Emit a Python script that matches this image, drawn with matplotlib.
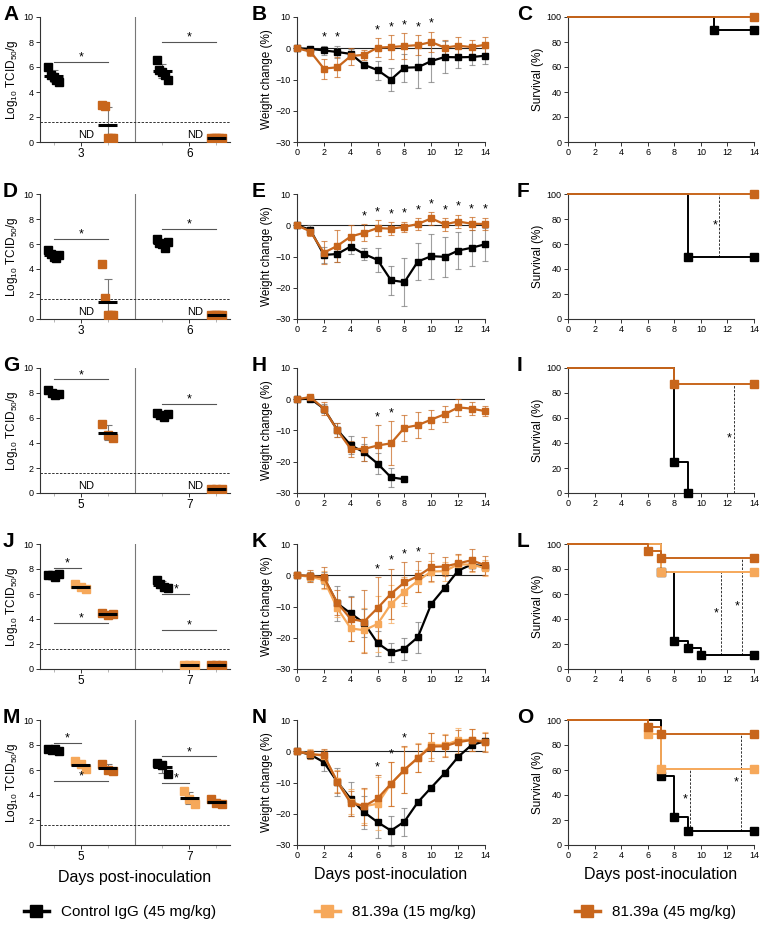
import numpy as np
import matplotlib.pyplot as plt
from matplotlib.lines import Line2D

plt.rcParams['font.family'] = ['Liberation Sans', 'DejaVu Sans']

BLACK = '#000000'
LIGHT = '#F6A85A'
DARK = '#C8661C'

# ---- virus titres (log10 TCID50/g), two days per panel ----
A_days = ['3', '6']
A_ctrl = [[6.0, 5.4, 5.2, 5.0, 4.8], [6.6, 5.8, 5.6, 5.4, 5.0]]
A_high = [[3.0, 2.9, 0.3, 0.3, 0.3], [0.3, 0.3, 0.3, 0.3, 0.3]]
A_sig = [(1, 3, 6.4), (5, 7, 8.0)]

D_days = ['3', '6']
D_ctrl = [[5.5, 5.2, 5.0, 4.9, 5.1], [6.4, 6.1, 6.0, 5.7, 6.2]]
D_high = [[4.4, 1.7, 0.3, 0.3, 0.3], [0.3, 0.3, 0.3, 0.3, 0.3]]
D_sig = [(1, 3, 6.4), (5, 7, 7.2)]

G_days = ['5', '7']
G_ctrl = [[8.2, 8.0, 7.8, 7.9], [6.4, 6.2, 6.1, 6.3]]
G_high = [[5.5, 4.6, 4.4], [0.3, 0.3, 0.3]]
G_sig = [(1, 3, 9.1), (5, 7, 7.15)]

J_days = ['5', '7']
J_ctrl = [[7.5, 7.5, 7.4, 7.6], [7.1, 6.8, 6.6, 6.5]]
J_low = [[6.8, 6.6, 6.4], [0.3, 0.3, 0.3]]
J_high = [[4.5, 4.3, 4.4], [0.3, 0.3, 0.3]]
J_sig = [(1, 2, 8.1), (1, 3, 3.7), (5, 6, 6.0), (5, 7, 3.15)]

M_days = ['5', '7']
M_ctrl = [[7.7, 7.6, 7.7, 7.5], [6.6, 6.4, 5.7]]
M_low = [[6.7, 6.5, 6.1], [4.3, 3.7, 3.3]]
M_high = [[6.5, 6.0, 5.9], [3.7, 3.4, 3.3]]
M_sig = [(1, 2, 8.2), (1, 3, 5.15), (5, 7, 7.1), (5, 6, 5.0)]

# ---- weight change (%) ----
days = np.arange(15)
B_ctrl = [0, -0.2, -0.7, -1.2, -1.8, -5.3, -7.0, -10.0, -6.2, -6.1, -4.1, -2.8, -2.9, -2.8, -2.4]
B_ctrl_sd = [0, 0.5, 1.5, 2.0, 1.5, 1.0, 3.0, 3.7, 4.5, 6.5, 6.7, 5.0, 3.5, 2.5, 2.5]
B_high = [0, -1.1, -6.5, -6.1, -2.5, -2.1, 0.2, 0.4, 0.7, 1.0, 2.0, 0.2, 0.8, 0.4, 1.1]
B_high_sd = [0, 1.5, 3.2, 3.2, 2.7, 1.5, 3.0, 3.7, 4.2, 3.2, 3.3, 2.5, 2.7, 2.2, 2.5]
B_star = [2, 3, 6, 7, 8, 9, 10]

E_ctrl = [0, -1.5, -9.5, -9.2, -6.8, -9.2, -11.1, -17.6, -18.2, -11.6, -9.9, -10.1, -8.1, -7.2, -6.1]
E_ctrl_sd = [0, 1.5, 2.5, 2.5, 2.5, 2.0, 3.8, 4.6, 7.7, 5.9, 7.2, 6.3, 6.0, 5.7, 5.2]
E_high = [0, -2.0, -8.8, -6.6, -3.6, -2.4, -0.9, -1.1, -0.5, 0.4, 2.2, 0.3, 1.2, 0.5, 0.4]
E_high_sd = [0, 1.5, 3.7, 5.2, 3.8, 2.7, 2.6, 2.0, 1.7, 1.9, 2.0, 2.0, 2.2, 2.0, 2.0]
E_star = [5, 6, 7, 8, 9, 10, 11, 12, 13, 14]

H_ctrl = [0, 0.2, -3.0, -9.8, -14.7, -17.0, -20.6, -25.0, -25.6]
H_ctrl_sd = [0, 0.5, 1.5, 2.3, 2.8, 2.7, 3.4, 3.0, 0]
H_high = [0, 0.7, -3.0, -9.9, -15.9, -15.9, -14.8, -14.1, -9.1, -8.3, -6.5, -4.8, -2.6, -3.0, -3.8]
H_high_sd = [0, 0.5, 2.0, 2.3, 2.5, 3.8, 6.5, 7.0, 4.2, 4.2, 3.1, 2.5, 2.8, 2.2, 1.5]
H_star = [6, 7]

K_ctrl = [0, -0.3, -0.8, -9.0, -12.2, -15.3, -21.7, -24.7, -23.5, -19.8, -9.2, -4.0, 1.5, 3.4, 2.8]
K_ctrl_sd = [0, 1.5, 2.0, 5.7, 5.5, 4.5, 4.0, 3.0, 3.5, 5.0, 0, 0, 0, 0, 0]
K_low = [0, -0.5, -1.5, -10.5, -17.0, -17.6, -15.6, -9.2, -5.2, -1.8, 1.2, 1.3, 3.5, 3.4, 2.3]
K_low_sd = [0, 1.5, 3.0, 3.0, 4.0, 7.0, 9.0, 6.0, 4.5, 3.5, 3.5, 3.0, 3.0, 2.5, 2.5]
K_high = [0, -0.2, -0.7, -8.8, -14.0, -14.8, -10.5, -5.9, -2.3, -0.3, 2.6, 2.8, 3.8, 4.8, 3.2]
K_high_sd = [0, 2.0, 3.5, 4.0, 7.0, 10.0, 10.0, 8.0, 6.5, 5.0, 4.5, 3.0, 3.0, 3.5, 3.0]
K_star = [6, 7, 8, 9]

N_ctrl = [0, -1.1, -3.5, -9.8, -15.2, -19.5, -22.7, -25.4, -22.5, -16.3, -11.6, -7.0, -1.8, 2.0, 3.2]
N_ctrl_sd = [0, 1.0, 2.7, 4.5, 5.5, 5.3, 5.0, 4.8, 4.5, 0, 0, 0, 0, 0, 0]
N_low = [0, -0.8, -1.5, -9.6, -16.2, -17.6, -16.8, -10.4, -6.0, -2.0, 2.0, 2.0, 3.5, 3.7, 3.1]
N_low_sd = [0, 1.5, 2.0, 3.5, 4.0, 5.5, 8.5, 7.0, 7.5, 4.5, 4.0, 3.5, 4.0, 3.5, 3.0]
N_high = [0, -1.0, -1.2, -9.8, -16.6, -17.6, -15.1, -10.4, -5.9, -2.2, 1.5, 1.6, 2.9, 3.6, 2.9]
N_high_sd = [0, 1.5, 2.0, 3.5, 4.0, 6.0, 7.5, 7.0, 7.5, 4.5, 4.5, 3.5, 4.0, 3.5, 3.0]
N_star = [6, 7, 8]

# ---- survival (%) : step times and values ----
C_ctrl_t, C_ctrl_s = [0, 11, 14], [100, 90, 90]
C_high_t, C_high_s = [0, 14], [100, 100]

F_ctrl_t, F_ctrl_s = [0, 9, 14], [100, 50, 50]
F_high_t, F_high_s = [0, 14], [100, 100]
F_dash = [11.4]

I_ctrl_t, I_ctrl_s = [0, 8, 9], [100, 25, 0]
I_high_t, I_high_s = [0, 8, 14], [100, 87.5, 87.5]
I_dash = [12.5]

L_ctrl_t, L_ctrl_s = [0, 7, 8, 9, 10, 14], [100, 77.8, 22.2, 16.7, 11.1, 11.1]
L_low_t, L_low_s = [0, 7, 14], [100, 77.8, 77.8]
L_high_t, L_high_s = [0, 6, 7, 14], [100, 94.4, 88.9, 88.9]
L_dash = [11.5, 13.1]

O_ctrl_t, O_ctrl_s = [0, 7, 8, 9, 14], [100, 55.6, 22.2, 11.1, 11.1]
O_low_t, O_low_s = [0, 6, 7, 14], [100, 88.9, 61.1, 61.1]
O_high_t, O_high_s = [0, 6, 7, 14], [100, 94.4, 88.9, 88.9]
O_dash = [9.2, 13.0]

fig = plt.figure(figsize=(7.6, 9.25), dpi=100)
W, H = 760, 925
lefts = [40, 297, 568]
widths = [190, 188, 186]
tops = [17, 194, 368, 544, 720]
ah = 125


def make_ax(col, row):
    ax = fig.add_axes([lefts[col] / W, 1 - (tops[row] + ah) / H, widths[col] / W, ah / H])
    for s in ['top', 'right']:
        ax.spines[s].set_visible(False)
    for s in ['left', 'bottom']:
        ax.spines[s].set_color('#333333')
        ax.spines[s].set_linewidth(0.8)
    ax.tick_params(labelsize=6.5, length=3, width=0.7, color='#333333', pad=1.5)
    return ax


def tissue(ax, day_labels, ctrl, low, high, sig, nd):
    ax.set_xlim(0.5, 7.5)
    ax.set_ylim(0, 10)
    ax.set_yticks(range(0, 11, 2))
    ax.set_xticks([2, 6])
    ax.set_xticklabels(day_labels, fontsize=8.5)
    ax.set_xticks([1, 3, 5, 7], minor=True)
    ax.tick_params(axis='x', which='minor', length=2, color='#aaaaaa')
    ax.axvline(4, color='#777777', lw=0.8)
    ax.axhline(1.6, color='#333333', lw=0.7, ls=(0, (2.5, 1.5)))
    for b, start in enumerate([1, 5]):
        for k, (vals, col) in enumerate([(ctrl, BLACK), (low, LIGHT), (high, DARK)]):
            x = start + k
            if vals is None:
                if nd:
                    ax.text(x + 0.2, 0.15, 'ND', fontsize=8, ha='center', va='bottom')
                continue
            v = np.array(vals[b])
            offs = np.linspace(-0.2, 0.2, len(v))
            ax.plot(x + offs, v, 's', color=col, ms=6, mec=col, zorder=3)
            m, sd = v.mean(), v.std(ddof=1)
            ax.errorbar(x, m, yerr=sd, color='#777777', capsize=3, lw=0.8, capthick=0.8, zorder=2)
            ax.hlines(m, x - 0.35, x + 0.35, color='black', lw=2.2, zorder=4)
    for x0, x1, y in sig:
        ax.plot([x0, x1], [y, y], color='#555555', lw=0.8)
        ax.text((x0 + x1) / 2, y - 0.15, '*', fontsize=9, ha='center', va='bottom')
    ax.set_ylabel('Log$_{\\mathregular{10}}$ TCID$_{\\mathregular{50}}$/g', fontsize=8.5, labelpad=3)


def weight(ax, series, stars):
    ax.set_xlim(0, 14)
    ax.set_ylim(-30, 10)
    ax.set_xticks(range(0, 15, 2))
    ax.set_yticks(range(-30, 11, 10))
    ax.axhline(0, color='#222222', lw=0.8, zorder=1)
    tops_ = np.full(15, -99.0)
    for vals, sd, col in series:
        v = np.array(vals)
        e = np.array(sd)
        x = days[:len(v)]
        ecol = '#777777' if col == BLACK else col
        ax.errorbar(x, v, yerr=e, fmt='none', ecolor=ecol, alpha=0.7, capsize=2.5,
                    lw=0.8, capthick=0.8, zorder=2, clip_on=False)
        ax.plot(x, v, '-s', color=col, lw=1.6, ms=5, zorder=3, clip_on=False)
        tops_[:len(v)] = np.maximum(tops_[:len(v)], v + e)
    for d in stars:
        ax.text(d, tops_[d] + 0.6, '*', fontsize=9, ha='center', va='bottom')
    ax.set_ylabel('Weight change (%)', fontsize=8.5, labelpad=2)


def survival(ax, curves, dashes):
    ax.set_xlim(0, 14)
    ax.set_ylim(0, 100)
    ax.set_xticks(range(0, 15, 2))
    ax.set_yticks(range(0, 101, 20))
    for t, s, col in curves:
        ax.step(t, s, where='post', color=col, lw=1.4, clip_on=False, zorder=3)
        ax.plot(t[1:], s[1:], 's', color=col, ms=5.5, clip_on=False, zorder=4)
    ctrl_s = curves[0][1]
    lows = [c[1][-1] for c in curves[1:]]
    for x, ytop in zip(dashes, sorted(lows)):
        ybot = ctrl_s[-1]
        ax.plot([x, x], [ybot, ytop], color='#333333', lw=0.7, ls=(0, (2.5, 1.5)))
        ax.text(x - 0.35, (ybot + ytop) / 2, '*', fontsize=9, ha='center', va='center')
    ax.set_ylabel('Survival (%)', fontsize=8.5, labelpad=2)


axA = make_ax(0, 0); tissue(axA, A_days, A_ctrl, None, A_high, A_sig, True)
axD = make_ax(0, 1); tissue(axD, D_days, D_ctrl, None, D_high, D_sig, True)
axG = make_ax(0, 2); tissue(axG, G_days, G_ctrl, None, G_high, G_sig, True)
axJ = make_ax(0, 3); tissue(axJ, J_days, J_ctrl, J_low, J_high, J_sig, False)
axM = make_ax(0, 4); tissue(axM, M_days, M_ctrl, M_low, M_high, M_sig, False)

axB = make_ax(1, 0); weight(axB, [(B_ctrl, B_ctrl_sd, BLACK), (B_high, B_high_sd, DARK)], B_star)
axE = make_ax(1, 1); weight(axE, [(E_ctrl, E_ctrl_sd, BLACK), (E_high, E_high_sd, DARK)], E_star)
axH = make_ax(1, 2); weight(axH, [(H_ctrl, H_ctrl_sd, BLACK), (H_high, H_high_sd, DARK)], H_star)
axK = make_ax(1, 3); weight(axK, [(K_ctrl, K_ctrl_sd, BLACK), (K_low, K_low_sd, LIGHT),
                                  (K_high, K_high_sd, DARK)], K_star)
axN = make_ax(1, 4); weight(axN, [(N_ctrl, N_ctrl_sd, BLACK), (N_low, N_low_sd, LIGHT),
                                  (N_high, N_high_sd, DARK)], N_star)

axC = make_ax(2, 0); survival(axC, [(C_ctrl_t, C_ctrl_s, BLACK), (C_high_t, C_high_s, DARK)], [])
axF = make_ax(2, 1); survival(axF, [(F_ctrl_t, F_ctrl_s, BLACK), (F_high_t, F_high_s, DARK)], F_dash)
axI = make_ax(2, 2); survival(axI, [(I_ctrl_t, I_ctrl_s, BLACK), (I_high_t, I_high_s, DARK)], I_dash)
axL = make_ax(2, 3); survival(axL, [(L_ctrl_t, L_ctrl_s, BLACK), (L_low_t, L_low_s, LIGHT),
                                    (L_high_t, L_high_s, DARK)], L_dash)
axO = make_ax(2, 4); survival(axO, [(O_ctrl_t, O_ctrl_s, BLACK), (O_low_t, O_low_s, LIGHT),
                                    (O_high_t, O_high_s, DARK)], O_dash)

for ax in [axM, axN, axO]:
    ax.set_xlabel('Days post-inoculation', fontsize=11.5, labelpad=5)

letters = ['A', 'B', 'C', 'D', 'E', 'F', 'G', 'H', 'I', 'J', 'K', 'L', 'M', 'N', 'O']
letter_x = [3, 252, 517]
for i, lab in enumerate(letters):
    r, c = divmod(i, 3)
    fig.text(letter_x[c] / W, 1 - (tops[r] - 12) / H, lab, fontsize=15,
             fontweight='bold', va='top', ha='left')

handles = [Line2D([], [], color=BLACK, marker='s', ms=8, lw=2.5),
           Line2D([], [], color=LIGHT, marker='s', ms=8, lw=2.5),
           Line2D([], [], color=DARK, marker='s', ms=8, lw=2.5)]
fig.legend(handles, ['Control IgG (45 mg/kg)', '81.39a (15 mg/kg)', '81.39a (45 mg/kg)'],
           loc='center', bbox_to_anchor=(0.5, 1 - 912 / H), ncol=3, frameon=False,
           fontsize=11, handlelength=1.6, columnspacing=6.5, handletextpad=0.8)

fig.savefig('out.png', dpi=100)
